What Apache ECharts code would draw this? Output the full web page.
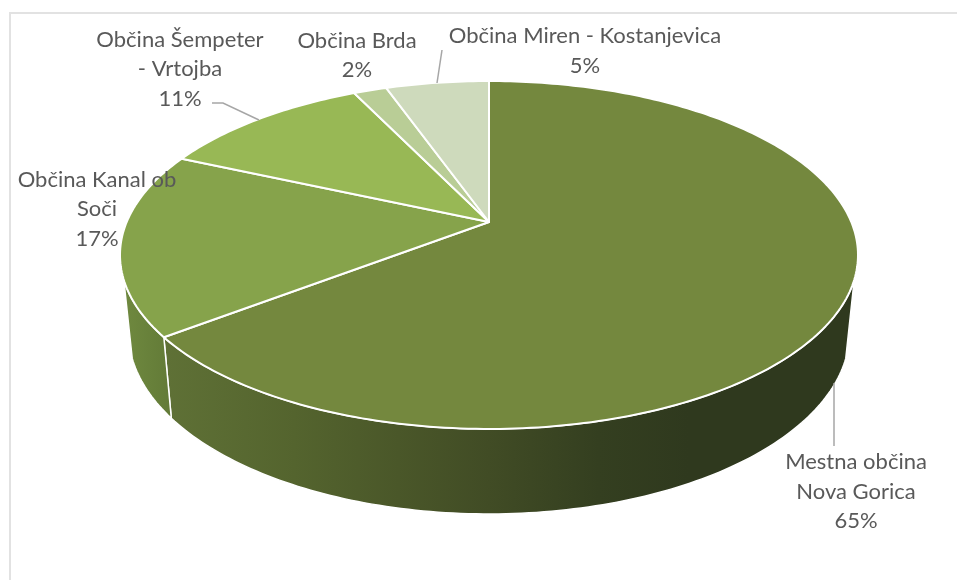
<!DOCTYPE html>
<html><head><meta charset="utf-8">
<style>html,body{margin:0;padding:0;background:#fff}#c{width:957px;height:580px}</style>
<script src="https://cdn.jsdelivr.net/npm/echarts@6/dist/echarts.min.js"></script>
</head><body><div id="c"></div>
<script>
// Data (clockwise from 12 o'clock)
const categories = ['Mestna občina\nNova Gorica', 'Občina Kanal ob\nSoči', 'Občina Šempeter\n- Vrtojba', 'Občina Brda', 'Občina Miren - Kostanjevica'];
const values = [64.6, 17.07, 11.15, 1.75, 5.43];

// Styling / layout
const topColors = ['#74883e', '#86a34b', '#98b855', '#b9cd96', '#cedabc'];
const wallFills = [
  {type:'linear',x:0,y:0,x2:1,y2:0,colorStops:[{offset:0,color:'#5f7136'},{offset:.19,color:'#54642e'},{offset:.34,color:'#4a5729'},{offset:.47,color:'#414c25'},{offset:.63,color:'#343f20'},{offset:.76,color:'#2f391e'},{offset:1,color:'#2f391e'}]},
  {type:'linear',x:0,y:0,x2:1,y2:0,colorStops:[{offset:0,color:'#6f893f'},{offset:1,color:'#627a37'}]}
];
const labelCentres = [[856,491.5],[97,209],[180,69],[357,55.5],[585,51]];
const leaders = [
  [[834,383],[834,446]],
  [[212,103],[223,103],[259,120]],
  [[442,50],[437,83]]
];
const P = {cx:489, cy:222, a:362.3, b:167.7, k:0.1897, xScale:0.977, drop:81, dropSlope:0.044, dropRef:338, wallCos:-0.3245};
const total = values.reduce((s,v)=>s+v,0);
const pct = values.map(v=>Math.round(v/total*100)+'%');
const rad = d=>d*Math.PI/180;
function rim(t){const w=1+P.k*Math.cos(rad(t));return [P.cx+P.a*Math.sin(rad(t))/w, P.cy-P.b*Math.cos(rad(t))/w];}
function low(pt){return [P.cx+(pt[0]-P.cx)*P.xScale, pt[1]+P.drop+(pt[1]-P.dropRef)*P.dropSlope];}
function span(i){let s=0;for(let j=0;j<i;j++)s+=values[j];return [s/total*360,(s+values[i])/total*360];}
function arc(t0,t1){const n=Math.max(2,Math.ceil(Math.abs(t1-t0)));const o=[];for(let i=0;i<=n;i++)o.push(t0+(t1-t0)*i/n);return o;}
const wallAngle=Math.acos(P.wallCos)*180/Math.PI;
const visible=[wallAngle, 360-wallAngle];

const seriesData = categories.map((c,i)=>({name:c,value:values[i]}));
const walls = (p,api)=>{
  const i=p.dataIndex,[s,e]=span(i),t0=Math.max(s,visible[0]),t1=Math.min(e,visible[1]);
  if(t1<=t0) return {type:'group',children:[]};
  const top=arc(t0,t1).map(rim),bot=top.map(low).reverse();
  return {type:'polygon',shape:{points:top.concat(bot)},style:{fill:wallFills[i],stroke:'#fff',lineWidth:1.5,lineJoin:'round'}};
};
const tops = (p,api)=>{
  const i=p.dataIndex,[s,e]=span(i);
  return {type:'polygon',shape:{points:[[P.cx,P.cy]].concat(arc(s,e).map(rim))},style:{fill:topColors[i],stroke:'#fff',lineWidth:2,lineJoin:'round'}};
};
const labels = (p,api)=>{
  const i=p.dataIndex,c=labelCentres[i];
  return {type:'text',z2:10,style:{x:c[0],y:c[1],text:categories[i]+'\n'+pct[i],fill:'#595959',font:'22px Lato',lineHeight:29.5,align:'center',verticalAlign:'middle'}};
};
const lines = (p,api)=>({type:'polyline',shape:{points:leaders[p.dataIndex]},style:{fill:'none',stroke:'#a6a6a6',lineWidth:1.5}});

const chart = echarts.init(document.getElementById('c'));
chart.setOption({
  animation:false,
  backgroundColor:'#fff',
  graphic:[{type:'polyline',silent:true,shape:{points:[[10,580],[10,13],[957,13]]},style:{fill:'none',stroke:'#e2e2e2',lineWidth:2}}],
  series:[
    {type:'custom',coordinateSystem:'none',silent:true,z:1,renderItem:walls,data:seriesData},
    {type:'custom',coordinateSystem:'none',silent:true,z:2,renderItem:tops,data:seriesData},
    {type:'custom',coordinateSystem:'none',silent:true,z:3,renderItem:lines,data:leaders.map((l,i)=>i)},
    {type:'custom',coordinateSystem:'none',silent:true,z:4,renderItem:labels,data:seriesData}
  ]
});
</script></body></html>
